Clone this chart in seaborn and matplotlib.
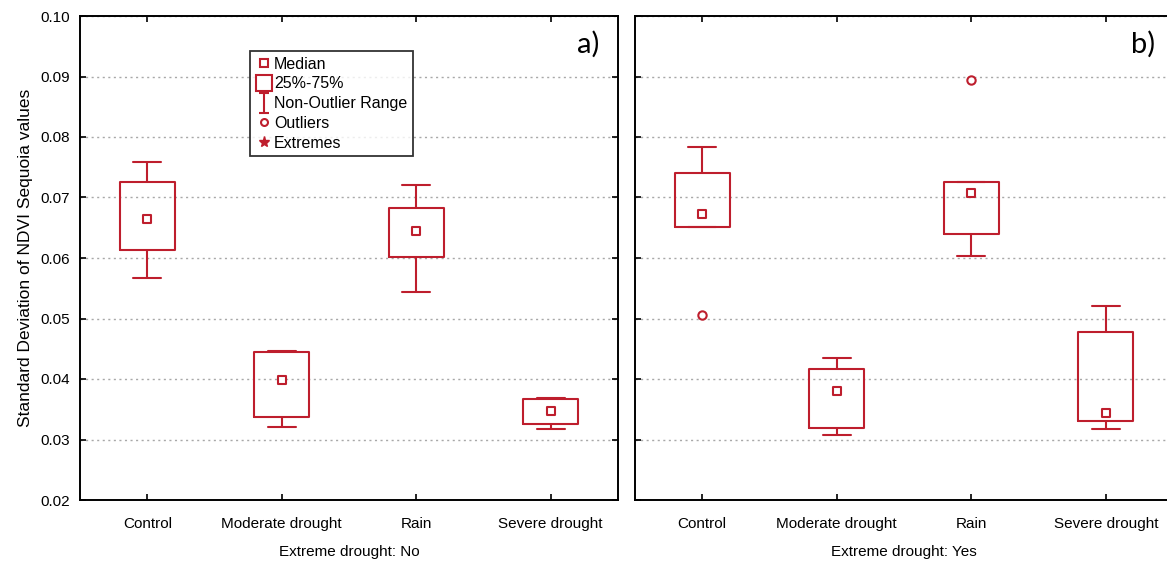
import numpy as np
import pandas as pd
import matplotlib
matplotlib.use("Agg")
import matplotlib.pyplot as plt
import seaborn as sns
from matplotlib.lines import Line2D
from matplotlib.path import Path

# ---------------- data ----------------
categories = ["Control", "Moderate drought", "Rain", "Severe drought"]
panel_labels = ["Extreme drought: No", "Extreme drought: Yes"]
panel_tags = ["a)", "b)"]

# Extreme drought: No
no_whisker_low = [0.0567, 0.0320, 0.0544, 0.0318]
no_q1 = [0.0613, 0.0337, 0.0601, 0.0325]
no_median = [0.0665, 0.0399, 0.0645, 0.0347]
no_q3 = [0.0726, 0.0444, 0.0682, 0.0367]
no_whisker_high = [0.0759, 0.0447, 0.0720, 0.0369]
no_outlier_cat = []
no_outlier_val = []

# Extreme drought: Yes
yes_whisker_low = [0.0652, 0.0307, 0.0603, 0.0317]
yes_q1 = [0.0652, 0.0319, 0.0640, 0.0330]
yes_median = [0.0673, 0.0380, 0.0707, 0.0344]
yes_q3 = [0.0740, 0.0417, 0.0725, 0.0477]
yes_whisker_high = [0.0784, 0.0435, 0.0725, 0.0520]
yes_outlier_cat = ["Control", "Rain"]
yes_outlier_val = [0.0506, 0.0895]

y_ticks = [0.02, 0.03, 0.04, 0.05, 0.06, 0.07, 0.08, 0.09, 0.10]
legend_labels = ["Median", "25%-75%", "Non-Outlier Range", "Outliers", "Extremes"]

# ---------------- style ----------------
RED = "#BE1E2D"
sns.set_theme(style="white")
plt.rcParams["font.family"] = ["Liberation Sans", "DejaVu Sans"]
plt.rcParams.update({"text.color": "black", "axes.labelcolor": "black",
                     "xtick.color": "black", "ytick.color": "black"})


def five_number_frame(lo, q1, med, q3, hi):
    rows = []
    for i, c in enumerate(categories):
        for v in (lo[i], q1[i], med[i], q3[i], hi[i]):
            rows.append({"category": c, "value": v})
    return pd.DataFrame(rows)


panels = [
    (five_number_frame(no_whisker_low, no_q1, no_median, no_q3, no_whisker_high),
     no_median, no_outlier_cat, no_outlier_val),
    (five_number_frame(yes_whisker_low, yes_q1, yes_median, yes_q3, yes_whisker_high),
     yes_median, yes_outlier_cat, yes_outlier_val),
]

W, H = 1167, 563
fig = plt.figure(figsize=(W / 100, H / 100), dpi=100)
ax_w = 538 / W
ax_b = 1 - 500 / H
ax_h = (500 - 16) / H
axes = [fig.add_axes([80 / W, ax_b, ax_w, ax_h]),
        fig.add_axes([635 / W, ax_b, ax_w, ax_h])]

for k, (ax, (df, med, ocat, oval)) in enumerate(zip(axes, panels)):
    ax.set_axisbelow(True)
    ax.yaxis.grid(True, linestyle=(0, (1.5, 2.5)), color="#a8a8a8", linewidth=1.0)
    ax.xaxis.grid(False)
    sns.boxplot(data=df, x="category", y="value", order=categories,
                whis=(0, 100), width=0.41, fill=False, color=RED,
                linewidth=1.5, showfliers=False,
                medianprops=dict(visible=False), ax=ax)
    sns.stripplot(x=categories, y=med, order=categories, jitter=False,
                  marker="s", size=6, color="white", edgecolor=RED,
                  linewidth=1.5, ax=ax, zorder=5)
    if len(ocat):
        sns.stripplot(x=ocat, y=oval, order=categories, jitter=False,
                      marker="o", size=6, color="white", edgecolor=RED,
                      linewidth=1.5, ax=ax, zorder=5)
    ax.set_xlim(-0.5, 3.5)
    ax.set_ylim(0.02, 0.10)
    ax.set_yticks(y_ticks)
    ax.set_xticks(range(len(categories)))
    ax.set_xticklabels(categories)
    ax.tick_params(axis="both", which="both", direction="in", length=4,
                   width=1.2, color="black", labelcolor="black", top=True,
                   right=True, left=True, bottom=True)
    ax.tick_params(axis="x", labelsize=11, pad=12)
    ax.tick_params(axis="y", labelsize=11, pad=7)
    for s in ax.spines.values():
        s.set_visible(True)
        s.set_color("black")
        s.set_linewidth(1.4)
    ax.set_xlabel(panel_labels[k], fontsize=11, labelpad=10, color="black")
    ax.text(0.944, 0.942, panel_tags[k], transform=ax.transAxes, color="black",
            fontsize=21, family=["Lato", "DejaVu Sans"], ha="center", va="center")
    if k == 0:
        ax.set_yticklabels([f"{t:.2f}" for t in y_ticks])
        ax.set_ylabel("Standard Deviation of NDVI Sequoia values", fontsize=12.5,
                      color="black")
        ax.yaxis.set_label_coords(-0.088, 0.5)
    else:
        ax.set_yticklabels([])
        ax.set_ylabel("")

# ---------------- legend ----------------
ibeam = Path([(-0.5, 1), (0.5, 1), (0, 1), (0, -1), (-0.5, -1), (0.5, -1)],
             [Path.MOVETO, Path.LINETO, Path.MOVETO, Path.LINETO,
              Path.MOVETO, Path.LINETO])
handles = [
    Line2D([], [], ls="none", marker="s", ms=6, mfc="white", mec=RED, mew=1.5),
    Line2D([], [], ls="none", marker="s", ms=12, mfc="white", mec=RED, mew=1.5),
    Line2D([], [], ls="none", marker=ibeam, ms=14, mfc="none", mec=RED, mew=1.5),
    Line2D([], [], ls="none", marker="o", ms=5, mfc="white", mec=RED, mew=1.5),
    Line2D([], [], ls="none", marker="*", ms=8, mfc=RED, mec=RED, mew=1.0),
]
leg = axes[0].legend(handles, legend_labels, loc="upper left",
                     bbox_to_anchor=((250 - 80) / 538, (500 - 51) / 484),
                     fontsize=11.5, frameon=True, fancybox=False,
                     handlelength=1.0, handletextpad=0.15, labelspacing=0.3,
                     borderpad=0.35, borderaxespad=0)
leg.get_frame().set_edgecolor("black")
leg.get_frame().set_linewidth(1.3)
for t in leg.get_texts():
    t.set_color("black")

fig.savefig("out.png", dpi=100)
